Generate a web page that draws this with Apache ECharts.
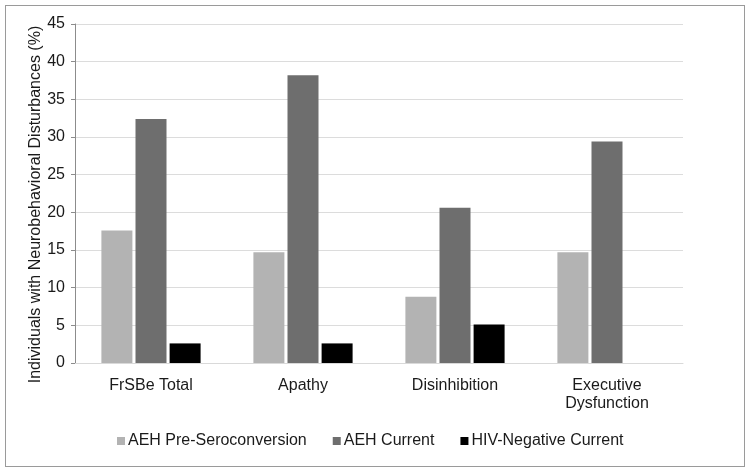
<!DOCTYPE html>
<html>
<head>
<meta charset="utf-8">
<script src="https://cdn.jsdelivr.net/npm/echarts@6/dist/echarts.min.js"></script>
<style>
  html, body { margin: 0; padding: 0; background: #fff; }
  #frame { position: absolute; left: 5px; top: 5px; width: 740px; height: 462px; border: 1px solid #9a9a9a; box-sizing: border-box; }
  #chart { width: 751px; height: 474px; position: absolute; left: 0; top: 0; }
</style>
</head>
<body>
<div id="frame"></div>
<div id="chart"></div>
<script>
// 神经行为障碍比例 - 分组柱状图
const categories = ['FrSBe Total', 'Apathy', 'Disinhibition', 'Executive\nDysfunction'];
const preSeroconversion = [17.6, 14.7, 8.8, 14.7];
const aehCurrent = [32.4, 38.2, 20.6, 29.4];
const hivNegCurrent = [2.6, 2.6, 5.1, 0];

const myChart = echarts.init(document.getElementById('chart'));

const labelFont = { fontFamily: 'Liberation Sans, Arial, sans-serif', fontSize: 16, color: '#1a1a1a' };

const option = {
  animation: false,
  color: ['#b3b3b3', '#6e6e6e', '#000000'],
  legend: {
    bottom: 20,
    left: 112,
    itemWidth: 8,
    itemHeight: 8,
    itemGap: 26,
    icon: 'rect',
    textStyle: Object.assign({ padding: [0, 0, 0, -2] }, labelFont),
    data: ['AEH Pre-Seroconversion', 'AEH Current', 'HIV-Negative Current']
  },
  grid: {
    left: 75,
    right: 68,
    top: 24,
    bottom: 111
  },
  xAxis: {
    type: 'category',
    data: categories,
    axisLine: { lineStyle: { color: '#d9d9d9', width: 1 } },
    axisTick: { show: false },
    axisLabel: Object.assign({ margin: 14, lineHeight: 18 }, labelFont)
  },
  yAxis: {
    type: 'value',
    min: 0,
    max: 45,
    interval: 5,
    name: 'Individuals with Neurobehavioral Disturbances (%)',
    nameLocation: 'middle',
    nameGap: 31,
    nameMoveOverlap: false,
    nameTextStyle: Object.assign({ padding: [0, 22, 0, 0] }, labelFont),
    axisLine: { show: true, lineStyle: { color: '#8c8c8c' } },
    axisTick: { show: true, length: 4, lineStyle: { color: '#8c8c8c' } },
    axisLabel: Object.assign({ margin: 10 }, labelFont),
    splitLine: { lineStyle: { color: '#dcdcdc' } }
  },
  series: [
    {
      name: 'AEH Pre-Seroconversion',
      type: 'bar',
      barWidth: 31,
      barGap: '10%',
      data: preSeroconversion
    },
    {
      name: 'AEH Current',
      type: 'bar',
      barWidth: 31,
      barGap: '10%',
      data: aehCurrent
    },
    {
      name: 'HIV-Negative Current',
      type: 'bar',
      barWidth: 31,
      barGap: '10%',
      data: hivNegCurrent
    }
  ]
};

myChart.setOption(option);
</script>
</body>
</html>
